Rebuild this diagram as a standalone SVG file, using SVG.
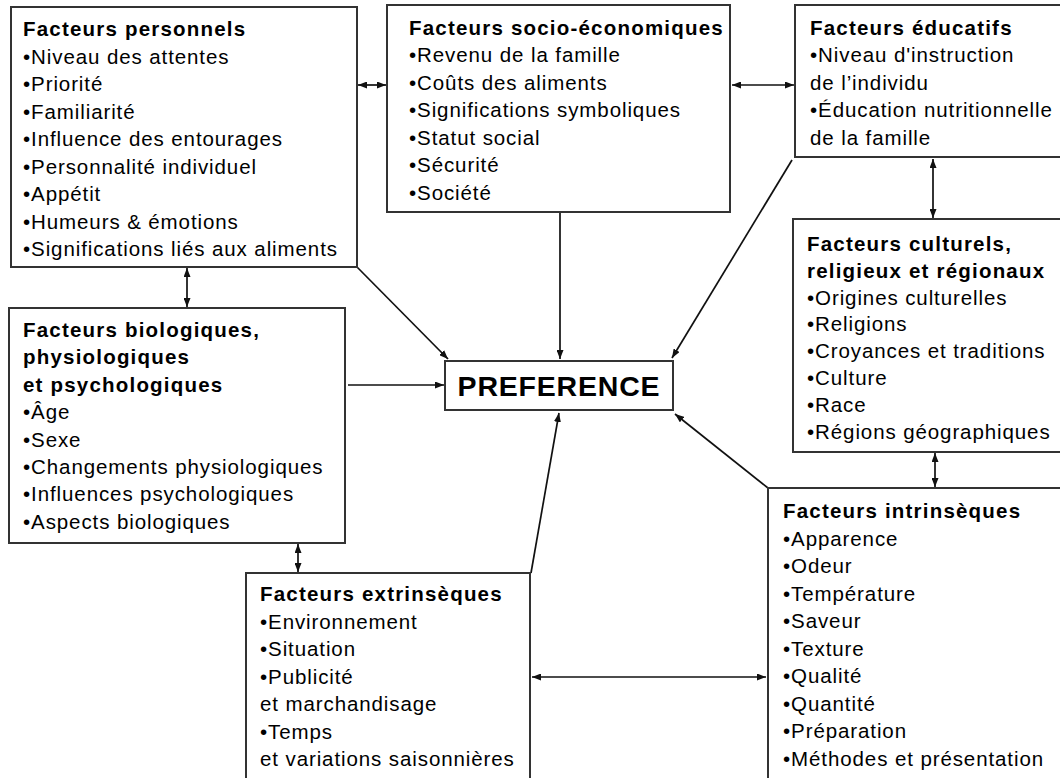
<svg xmlns="http://www.w3.org/2000/svg" width="1060" height="778" viewBox="0 0 1060 778">
<style>
.box{fill:#fff;stroke:#333;stroke-width:2}
.t{font-family:"Liberation Sans",Arial,sans-serif;font-size:20.5px;letter-spacing:0.9px;fill:#000}
.h{font-weight:bold;letter-spacing:1.2px}
.pref{font-family:"Liberation Sans",Arial,sans-serif;font-size:28.5px;font-weight:bold;letter-spacing:0.8px;fill:#000}
.c{fill:none;stroke:#111;stroke-width:1.7}
</style>
<defs>
<marker id="ah" viewBox="0 0 9 7" refX="9" refY="3.5" markerWidth="9" markerHeight="7" markerUnits="userSpaceOnUse" orient="auto-start-reverse">
<path d="M0,0 L9,3.5 L0,7 z" fill="#111"/>
</marker>
</defs>
<rect width="1060" height="778" fill="#fff"/>

<g id="connectors">
<line class="c" x1="358" y1="85" x2="386" y2="85" marker-start="url(#ah)" marker-end="url(#ah)"/>
<line class="c" x1="732" y1="85" x2="794" y2="85" marker-start="url(#ah)" marker-end="url(#ah)"/>
<line class="c" x1="933" y1="159" x2="933" y2="218" marker-start="url(#ah)" marker-end="url(#ah)"/>
<line class="c" x1="187" y1="268" x2="187" y2="307" marker-start="url(#ah)" marker-end="url(#ah)"/>
<line class="c" x1="935" y1="453" x2="935" y2="487" marker-start="url(#ah)" marker-end="url(#ah)"/>
<line class="c" x1="298" y1="544" x2="298" y2="572" marker-start="url(#ah)" marker-end="url(#ah)"/>
<line class="c" x1="532" y1="677" x2="766" y2="677" marker-start="url(#ah)" marker-end="url(#ah)"/>
<line class="c" x1="357" y1="267" x2="448" y2="359" marker-end="url(#ah)"/>
<line class="c" x1="560" y1="212" x2="560" y2="359" marker-end="url(#ah)"/>
<line class="c" x1="792" y1="160" x2="672" y2="358" marker-end="url(#ah)"/>
<line class="c" x1="348" y1="385" x2="444" y2="385" marker-end="url(#ah)"/>
<line class="c" x1="531" y1="573" x2="559" y2="413" marker-end="url(#ah)"/>
<line class="c" x1="768" y1="488" x2="675" y2="414" marker-end="url(#ah)"/>
</g>

<g id="personnels">
<rect class="box" x="11" y="7" width="346" height="260"/>
<text class="t">
<tspan class="h" x="23" y="36">Facteurs personnels</tspan>
<tspan x="23" y="63.5">•Niveau des attentes</tspan>
<tspan x="23" y="91">•Priorité</tspan>
<tspan x="23" y="118.5">•Familiarité</tspan>
<tspan x="23" y="146">•Influence des entourages</tspan>
<tspan x="23" y="173.5">•Personnalité individuel</tspan>
<tspan x="23" y="201">•Appétit</tspan>
<tspan x="23" y="228.5">•Humeurs &amp; émotions</tspan>
<tspan x="23" y="256">•Significations liés aux aliments</tspan>
</text>
</g>

<g id="socio">
<rect class="box" x="387" y="5" width="343" height="207"/>
<text class="t">
<tspan class="h" x="409" y="34.5">Facteurs socio-économiques</tspan>
<tspan x="409" y="62">•Revenu de la famille</tspan>
<tspan x="409" y="89.5">•Coûts des aliments</tspan>
<tspan x="409" y="117">•Significations symboliques</tspan>
<tspan x="409" y="144.5">•Statut social</tspan>
<tspan x="409" y="172">•Sécurité</tspan>
<tspan x="409" y="199.5">•Société</tspan>
</text>
</g>

<g id="educatifs">
<rect class="box" x="795" y="5" width="280" height="152"/>
<text class="t">
<tspan class="h" x="810" y="34.5">Facteurs éducatifs</tspan>
<tspan x="810" y="62">•Niveau d'instruction</tspan>
<tspan x="810" y="89.5">de l’individu</tspan>
<tspan x="810" y="117">•Éducation nutritionnelle</tspan>
<tspan x="810" y="144.5">de la famille</tspan>
</text>
</g>

<g id="culturels">
<rect class="box" x="793" y="219" width="282" height="233"/>
<text class="t">
<tspan class="h" x="807" y="251">Facteurs culturels,</tspan>
<tspan class="h" x="807" y="277.8">religieux et régionaux</tspan>
<tspan x="807" y="304.6">•Origines culturelles</tspan>
<tspan x="807" y="331.4">•Religions</tspan>
<tspan x="807" y="358.2">•Croyances et traditions</tspan>
<tspan x="807" y="385">•Culture</tspan>
<tspan x="807" y="411.8">•Race</tspan>
<tspan x="807" y="438.6">•Régions géographiques</tspan>
</text>
</g>

<g id="biologiques">
<rect class="box" x="9" y="308" width="336" height="235"/>
<text class="t">
<tspan class="h" x="23" y="337">Facteurs biologiques,</tspan>
<tspan class="h" x="23" y="364.4">physiologiques</tspan>
<tspan class="h" x="23" y="391.8">et psychologiques</tspan>
<tspan x="23" y="419.2">•Âge</tspan>
<tspan x="23" y="446.6">•Sexe</tspan>
<tspan x="23" y="474">•Changements physiologiques</tspan>
<tspan x="23" y="501.4">•Influences psychologiques</tspan>
<tspan x="23" y="528.8">•Aspects biologiques</tspan>
</text>
</g>

<g id="preference">
<rect class="box" x="445" y="361" width="228" height="49"/>
<text class="pref" x="559" y="396" text-anchor="middle">PREFERENCE</text>
</g>

<g id="extrinseques">
<rect class="box" x="246" y="573" width="284" height="220"/>
<text class="t">
<tspan class="h" x="260" y="601">Facteurs extrinsèques</tspan>
<tspan x="260" y="628.5">•Environnement</tspan>
<tspan x="260" y="656">•Situation</tspan>
<tspan x="260" y="683.5">•Publicité</tspan>
<tspan x="260" y="711">et marchandisage</tspan>
<tspan x="260" y="738.5">•Temps</tspan>
<tspan x="260" y="766">et variations saisonnières</tspan>
</text>
</g>

<g id="intrinseques">
<rect class="box" x="768" y="488" width="307" height="305"/>
<text class="t">
<tspan class="h" x="783" y="518">Facteurs intrinsèques</tspan>
<tspan x="783" y="545.5">•Apparence</tspan>
<tspan x="783" y="573">•Odeur</tspan>
<tspan x="783" y="600.5">•Température</tspan>
<tspan x="783" y="628">•Saveur</tspan>
<tspan x="783" y="655.5">•Texture</tspan>
<tspan x="783" y="683">•Qualité</tspan>
<tspan x="783" y="710.5">•Quantité</tspan>
<tspan x="783" y="738">•Préparation</tspan>
<tspan x="783" y="765.5">•Méthodes et présentation</tspan>
</text>
</g>
</svg>
